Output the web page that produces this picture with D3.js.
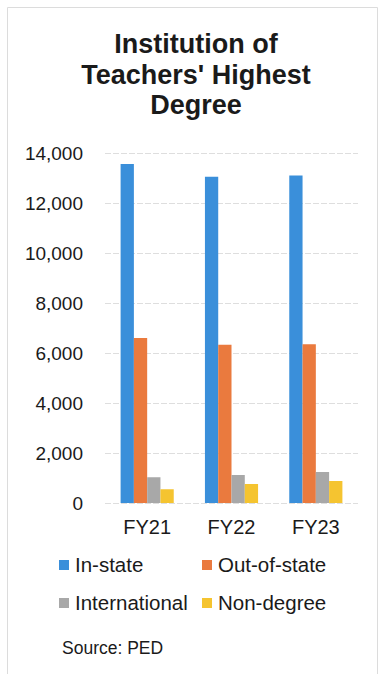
<!DOCTYPE html>
<html>
<head>
<meta charset="utf-8">
<script src="https://cdn.jsdelivr.net/npm/d3@7"></script>
<style>
  body { margin: 0; background: #fff; }
  text { font-family: "Liberation Sans", Arial, sans-serif; fill: #1a1a1a; }
</style>
</head>
<body>
<div id="chart"></div>
<script>
// data
var years = ["FY21", "FY22", "FY23"];
var series = ["In-state", "Out-of-state", "International", "Non-degree"];
var inState = [13560, 13050, 13100];
var outOfState = [6600, 6330, 6350];
var international = [1030, 1120, 1240];
var nonDegree = [550, 760, 880];
var yTicks = [0, 2000, 4000, 6000, 8000, 10000, 12000, 14000];
var titleLines = ["Institution of", "Teachers' Highest", "Degree"];

var colors = ["#3a8fda", "#ea7a3e", "#a8a8a8", "#f5c430"];
var values = [inState, outOfState, international, nonDegree];

var W = 381, H = 674;
var margin = {top: 153, left: 105, right: 23, bottom: 171};
var width = W - margin.left - margin.right;
var height = H - margin.top - margin.bottom;

var svg = d3.select("#chart").append("svg")
    .attr("width", W)
    .attr("height", H);

// faint frame of the scanned box
svg.append("path")
    .attr("d", "M7.5,680 V7.5 H377.5 V680")
    .attr("fill", "none")
    .attr("stroke", "#dcdcdc")
    .attr("stroke-width", 1);

// title
svg.append("g").selectAll("text")
  .data(titleLines)
  .enter().append("text")
    .attr("x", 196)
    .attr("y", function(d, i) { return 53 + i * 30.5; })
    .attr("text-anchor", "middle")
    .style("font-size", "27px")
    .style("font-weight", "bold")
    .text(function(d) { return d; });

var g = svg.append("g")
    .attr("transform", "translate(" + margin.left + "," + margin.top + ")");

var x0 = d3.scaleBand()
    .domain(years)
    .range([0, width])
    .paddingInner(0.37)
    .paddingOuter(0.185);

var x1 = d3.scaleBand()
    .domain(series)
    .range([0, x0.bandwidth()]);

var y = d3.scaleLinear()
    .domain([0, 14000])
    .range([height, 0]);

// gridlines
g.append("g").selectAll("line")
  .data(yTicks)
  .enter().append("line")
    .attr("x1", 0)
    .attr("x2", width)
    .attr("y1", function(d) { return y(d) + 0.5; })
    .attr("y2", function(d) { return y(d) + 0.5; })
    .attr("stroke", "#dedede")
    .attr("stroke-width", 1)
    .attr("stroke-dasharray", "6,2");

// y axis labels
var yAxis = g.append("g")
    .attr("transform", "translate(-19,0)")
    .call(d3.axisLeft(y).tickValues(yTicks).tickSize(0).tickFormat(d3.format(",")));
yAxis.select(".domain").remove();
yAxis.selectAll("text")
    .style("font-size", "19px")
    .style("font-family", "'Liberation Sans', Arial, sans-serif")
    .attr("fill", "#1a1a1a");

// bars
var group = g.append("g").selectAll("g")
  .data(years)
  .enter().append("g")
    .attr("transform", function(d) { return "translate(" + x0(d) + ",0)"; });

group.selectAll("rect")
  .data(function(d, i) {
    return series.map(function(s, j) { return {key: s, idx: j, value: values[j][i]}; });
  })
  .enter().append("rect")
    .attr("x", function(d) { return x1(d.key); })
    .attr("y", function(d) { return y(d.value); })
    .attr("width", x1.bandwidth())
    .attr("height", function(d) { return height - y(d.value); })
    .attr("fill", function(d) { return colors[d.idx]; });

// x axis labels
var xAxis = g.append("g")
    .attr("transform", "translate(0," + height + ")")
    .call(d3.axisBottom(x0).tickSize(0).tickPadding(17));
xAxis.select(".domain").remove();
xAxis.selectAll("text")
    .style("font-size", "20px")
    .style("font-family", "'Liberation Sans', Arial, sans-serif")
    .attr("fill", "#1a1a1a");

// legend
var legendPos = [[59, 565], [202, 565], [59, 603], [202, 603]];
var legend = svg.append("g").selectAll("g")
  .data(series)
  .enter().append("g")
    .attr("transform", function(d, i) { return "translate(" + legendPos[i][0] + "," + legendPos[i][1] + ")"; });

legend.append("rect")
    .attr("x", 0)
    .attr("y", -5)
    .attr("width", 10)
    .attr("height", 10)
    .attr("fill", function(d, i) { return colors[i]; });

legend.append("text")
    .attr("x", 16)
    .attr("y", 7)
    .style("font-size", "20.5px")
    .text(function(d) { return d; });

// source note
svg.append("text")
    .attr("x", 62)
    .attr("y", 654)
    .style("font-size", "17.5px")
    .text("Source: PED");
</script>
</body>
</html>
